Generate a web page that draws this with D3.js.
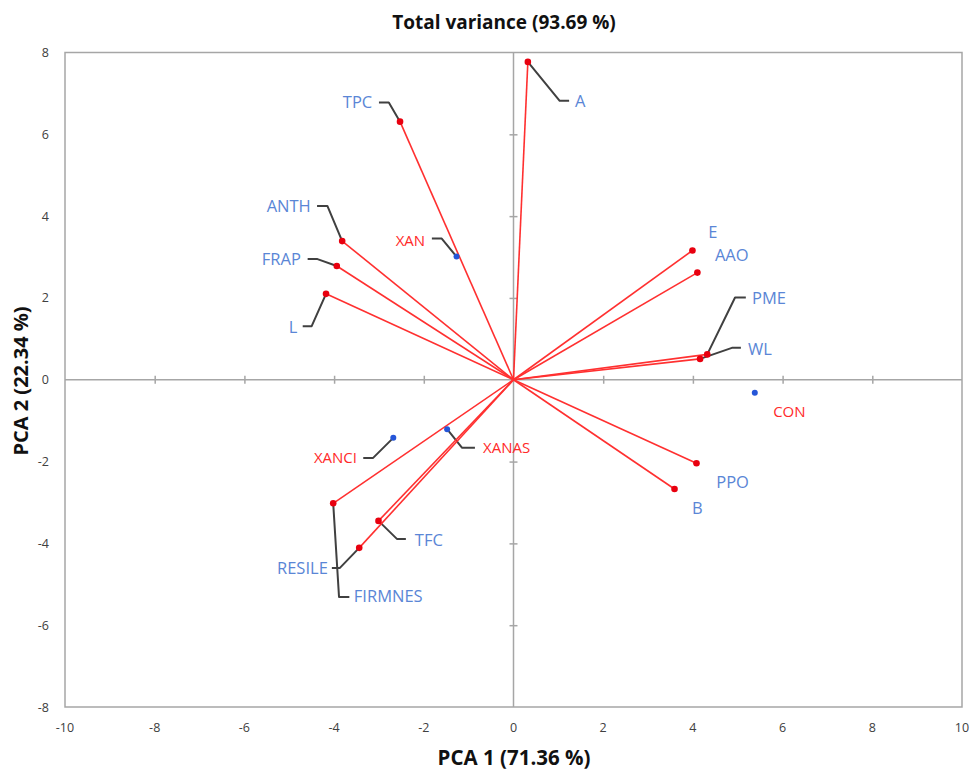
<!DOCTYPE html>
<html><head><meta charset="utf-8">
<script src="https://cdn.jsdelivr.net/npm/d3@7"></script>
<style>body{margin:0;background:#fff}svg{display:block}</style>
</head><body>
<script>
// ---- data ----
const varNames = ["A","TPC","ANTH","FRAP","L","E","AAO","PME","WL","PPO","B","TFC","RESILE","FIRMNES"];
const varPC1   = [0.32,-2.53,-3.82,-3.94,-4.18,3.99,4.10,4.32,4.16,4.08,3.59,-3.01,-3.44,-4.02];
const varPC2   = [7.77, 6.31, 3.39, 2.78, 2.10,3.16,2.62,0.62,0.51,-2.04,-2.67,-3.45,-4.11,-3.02];
const sampleNames = ["XAN","CON","XANCI","XANAS"];
const samplePC1   = [-1.27,5.38,-2.68,-1.48];
const samplePC2   = [3.01,-0.32,-1.42,-1.21];
const xTicks = [-10,-8,-6,-4,-2,0,2,4,6,8,10];
const yTicks = [-8,-6,-4,-2,0,2,4,6,8];
const titleText = "Total variance (93.69 %)";
const xTitle = "PCA 1 (71.36 %)";
const yTitle = "PCA 2 (22.34 %)";
// label annotations (data units): text position, anchor, leader path points
const varLabels = {
  A:{t:[1.37,6.82],a:"start",lead:[[1.03,6.82],[1.24,6.82]]},
  TPC:{t:[-3.15,6.79],a:"end",lead:[[-2.78,6.78],[-3.00,6.78]]},
  ANTH:{t:[-4.52,4.25],a:"end",lead:[[-4.15,4.25],[-4.38,4.25]]},
  FRAP:{t:[-4.74,2.95],a:"end",lead:[[-4.37,2.95],[-4.59,2.95]]},
  L:{t:[-4.82,1.30],a:"end",lead:[[-4.50,1.31],[-4.70,1.31]]},
  E:{t:[4.34,3.62],a:"start",lead:[]},
  AAO:{t:[4.49,3.05],a:"start",lead:[]},
  PME:{t:[5.32,2.00],a:"start",lead:[[4.94,2.01],[5.18,2.01]]},
  WL:{t:[5.23,0.76],a:"start",lead:[[4.87,0.78],[5.07,0.78]]},
  PPO:{t:[4.52,-2.50],a:"start",lead:[]},
  B:{t:[3.98,-3.13],a:"start",lead:[]},
  TFC:{t:[-2.20,-3.91],a:"start",lead:[[-2.60,-3.89],[-2.40,-3.89]]},
  RESILE:{t:[-4.14,-4.60],a:"end",lead:[[-3.87,-4.60],[-4.05,-4.60]]},
  FIRMNES:{t:[-3.56,-5.30],a:"start",lead:[[-3.89,-5.31],[-3.66,-5.31]]}
};
const sampleLabels = {
  XAN:{t:[-1.97,3.40],a:"end",lead:[[-1.60,3.45],[-1.82,3.45]]},
  CON:{t:[5.79,-0.79],a:"start",lead:[]},
  XANCI:{t:[-3.49,-1.90],a:"end",lead:[[-3.13,-1.91],[-3.35,-1.91]]},
  XANAS:{t:[-0.68,-1.67],a:"start",lead:[[-1.15,-1.66],[-0.86,-1.66]]}
};

// ---- drawing ----
const W=973,H=773;
const svg=d3.select("body").append("svg").attr("width",W).attr("height",H);
const x=d3.scaleLinear().domain([-10,10]).range([65,962]);
const y=d3.scaleLinear().domain([-8,8]).range([707,52.5]);
const axisCol="#a6a6a6";
const font="'Open Sans', sans-serif";

svg.append("rect").attr("x",x(-10)).attr("y",y(8)).attr("width",x(10)-x(-10)).attr("height",y(-8)-y(8))
  .attr("fill","none").attr("stroke",axisCol).attr("stroke-width",1.5);

// zero axes with cross ticks
const xAxis=d3.axisBottom(x).tickValues(xTicks.filter(d=>d>-10&&d<10&&d!==0)).tickSize(8).tickFormat("");
svg.append("g").attr("transform",`translate(0,${y(0)-4})`).call(xAxis)
  .call(g=>{g.select(".domain").remove();g.selectAll("line").attr("stroke",axisCol).attr("stroke-width",1.5);});
const yAxis=d3.axisLeft(y).tickValues(yTicks.filter(d=>d>-8&&d<8&&d!==0)).tickSize(8).tickFormat("");
svg.append("g").attr("transform",`translate(${x(0)+4},0)`).call(yAxis)
  .call(g=>{g.select(".domain").remove();g.selectAll("line").attr("stroke",axisCol).attr("stroke-width",1.5);});
svg.append("line").attr("x1",x(-10)).attr("x2",x(10)).attr("y1",y(0)).attr("y2",y(0)).attr("stroke",axisCol).attr("stroke-width",1.5);
svg.append("line").attr("x1",x(0)).attr("x2",x(0)).attr("y1",y(8)).attr("y2",y(-8)).attr("stroke",axisCol).attr("stroke-width",1.5);

// tick labels
svg.append("g").selectAll("text").data(xTicks).join("text")
  .attr("x",d=>x(d)).attr("y",732).attr("text-anchor","middle")
  .attr("font-family",font).attr("font-size",12.5).attr("fill","#404040")
  .text(d=>d);
svg.append("g").selectAll("text").data(yTicks).join("text")
  .attr("x",49).attr("y",d=>y(d)+4.5).attr("text-anchor","end")
  .attr("font-family",font).attr("font-size",12.5).attr("fill","#404040")
  .text(d=>d);

// titles
svg.append("text").attr("x",504).attr("y",29).attr("text-anchor","middle")
  .attr("font-family",font).attr("font-weight","bold").attr("font-size",19).attr("fill","#111").text(titleText);
svg.append("text").attr("x",514).attr("y",765).attr("text-anchor","middle")
  .attr("font-family",font).attr("font-weight","bold").attr("font-size",20.5).attr("fill","#111").text(xTitle);
svg.append("text").attr("transform","translate(28,381) rotate(-90)").attr("text-anchor","middle")
  .attr("font-family",font).attr("font-weight","bold").attr("font-size",20).attr("fill","#111").text(yTitle);

const vars=varNames.map((n,i)=>({n,px:varPC1[i],py:varPC2[i]}));
const samples=sampleNames.map((n,i)=>({n,px:samplePC1[i],py:samplePC2[i]}));

// leaders
const lineGen=d3.line().x(d=>x(d[0])).y(d=>y(d[1]));
function leaders(list,lab){
  svg.append("g").selectAll("path").data(list.filter(d=>lab[d.n].lead.length)).join("path")
    .attr("d",d=>lineGen([[d.px,d.py],...lab[d.n].lead]))
    .attr("fill","none").attr("stroke","#404040").attr("stroke-width",2).attr("stroke-linejoin","round");
}
leaders(vars,varLabels);
leaders(samples,sampleLabels);

// vector lines
svg.append("g").selectAll("line").data(vars).join("line")
  .attr("x1",x(0)).attr("y1",y(0)).attr("x2",d=>x(d.px)).attr("y2",d=>y(d.py))
  .attr("stroke","#ff3030").attr("stroke-width",1.6);
svg.append("g").selectAll("circle").data(vars).join("circle")
  .attr("cx",d=>x(d.px)).attr("cy",d=>y(d.py)).attr("r",3.3).attr("fill","#e8000f");
svg.append("g").selectAll("circle").data(samples).join("circle")
  .attr("cx",d=>x(d.px)).attr("cy",d=>y(d.py)).attr("r",3).attr("fill","#2556d8");

// labels
svg.append("g").selectAll("text").data(vars).join("text")
  .attr("x",d=>x(varLabels[d.n].t[0])).attr("y",d=>y(varLabels[d.n].t[1]))
  .attr("dy","0.36em").attr("text-anchor",d=>varLabels[d.n].a)
  .attr("font-family",font).attr("font-size",16.5).attr("fill","#5a86d6").text(d=>d.n);
svg.append("g").selectAll("text").data(samples).join("text")
  .attr("x",d=>x(sampleLabels[d.n].t[0])).attr("y",d=>y(sampleLabels[d.n].t[1]))
  .attr("dy","0.36em").attr("text-anchor",d=>sampleLabels[d.n].a)
  .attr("font-family",font).attr("font-size",15).attr("fill","#ff2a2a").text(d=>d.n);
</script>
</body></html>
